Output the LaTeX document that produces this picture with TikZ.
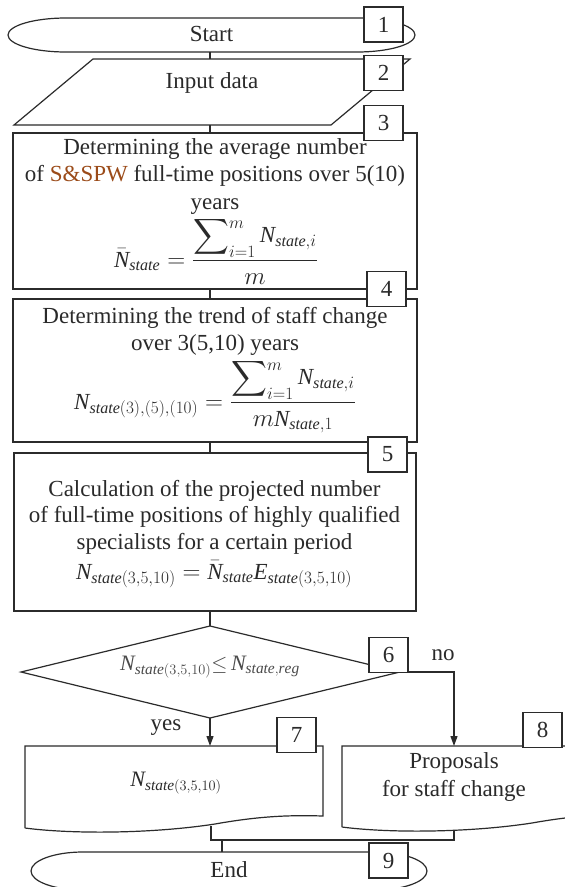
\documentclass[tikz,border=0pt]{standalone}
\usepackage{exscale}
\usepackage{fontspec}
\setmainfont{Liberation Serif}
\usetikzlibrary{arrows.meta,calc}
\definecolor{ink}{HTML}{2B2B2B}
\definecolor{txt}{HTML}{2A2A2A}
\definecolor{gtxt}{HTML}{4A4A4A}
\definecolor{brn}{RGB}{155,75,25}
\newcommand{\fnt}{\fontsize{23}{27.5}\selectfont}
\newcommand{\fntb}{\fontsize{23}{26.5}\selectfont}
\newcommand{\fntc}{\fontsize{22}{26}\selectfont}
\newcommand{\Ni}{\mathit{N}}
\newcommand{\st}{\mathit{state}}
\newcommand{\sumim}{\sum\nolimits_{i=1}^{\lower5pt\hbox{$\scriptstyle m$}}}
\begin{document}
\begin{tikzpicture}[x=1pt,y=-1pt,
  ln/.style={draw=ink,line width=1.2pt},
  arr/.style={ln,-{Triangle[length=10pt,width=7pt]}},
  lbl/.style={text=txt,font=\fnt,inner sep=0pt,align=center},
  procbox/.style={ln,rectangle,inner sep=0pt},
  numbox/.style={ln,fill=white,rectangle,minimum width=39pt,minimum height=35pt,inner sep=0pt,text=txt,font=\fnt}]
\clip (0,0) rectangle (565,887);
\fill[white] (0,0) rectangle (565,887);

% 1 Start terminator
\draw[ln] (66,18) -- (357,18) .. controls (389,18) and (415,25.6) .. (415,35)
  .. controls (415,44.4) and (389,52) .. (357,52) -- (66,52)
  .. controls (34,52) and (8,44.4) .. (8,35) .. controls (8,25.6) and (34,18) .. cycle;
\node[lbl] (start) at (211.5,34) {Start};
\coordinate (stb) at (210,52);

% 2 Input data
\draw[ln] (93,59) -- (410,59) -- (331,125) -- (14,125) -- cycle;
\node[lbl] (input) at (212,83) {Input data};
\coordinate (int) at (210,59);
\coordinate (inb) at (210,125);

% 3
\node[procbox,minimum width=404pt,minimum height=156pt] (p3) at (215,211) {};
\node[lbl] (t3) at (215,176) {Determining the average number\\
 of \textcolor{brn}{S\&SPW} full-time positions over 5(10)\\
 years};
\node[lbl,anchor=base] (f3) at (216,267)
 {$\displaystyle \bar{\Ni}_{\st}=\frac{\displaystyle\sumim\Ni_{\st,i}}{m}$};

% 4
\node[procbox,minimum width=404pt,minimum height=143pt] (p4) at (215,370.5) {};
\node[lbl] (t4) at (215,331.5) {Determining the trend of staff change\\
 over 3(5,10) years};
\node[lbl,anchor=base] (f4) at (215,409)
 {$\displaystyle \Ni_{\st(3),(5),(10)}=\frac{\displaystyle\sumim\Ni_{\st,i}}{m\Ni_{\st,1}}$};

% 5
\node[procbox,minimum width=402pt,minimum height=158pt] (p5) at (215,532) {};
\node[lbl,font=\fntb] (t5) at (214.5,517) {Calculation of the projected number\\
 of full-time positions of highly qualified\\
 specialists for a certain period};
\node[lbl,anchor=base] (f5) at (214,579)
 {$\Ni_{\st(3,5,10)}=\bar{\Ni}_{\st}\mathit{E}_{\st(3,5,10)}$};

% 6 decision
\coordinate (dt) at (210,626);
\coordinate (dr) at (400,672);
\coordinate (db) at (210,718);
\coordinate (dl) at (21,672);
\draw[ln] (dt) -- (dr) -- (db) -- (dl) -- cycle;
\node[lbl,text=gtxt,font=\fntc] (cond) at (210,667) {$\Ni_{\st(3,5,10)}{\leq}\,\Ni_{\st,\mathit{reg}}$};

% 7 document
\draw[ln] (25,828) -- (25,746) -- (323,746) -- (323,816)
  .. controls (290,815) and (260,816) .. (215,824)
  .. controls (150,834) and (70,834) .. (25,828);
\node[lbl,font=\fntc] (t7) at (176,783) {$\Ni_{\st(3,5,10)}$};
\coordinate (d7t) at (210,746);
\coordinate (d7b) at (211,826);

% 8 document
\draw[ln] (342,827) -- (342,746) -- (640,746) -- (640,815)
  .. controls (607,814) and (577,815) .. (532,823)
  .. controls (467,833) and (387,833) .. (342,827);
\node[lbl] (t8) at (454,777) {Proposals\\for staff change};
\coordinate (d8t) at (454,746);
\coordinate (d8b) at (454,830);

% 9 End terminator
\draw[ln] (83,852) -- (375,852) .. controls (403.7,852) and (427,860.5) .. (427,871)
  .. controls (427,881.5) and (403.7,890) .. (375,890) -- (83,890)
  .. controls (54.3,890) and (31,881.5) .. (31,871) .. controls (31,860.5) and (54.3,852) .. cycle;
\node[lbl] (end) at (229,870) {End};
\coordinate (ent) at (222,852);

% connectors
\draw[ln] (stb) -- (int);
\draw[ln] (inb) -- (inb |- p3.north);
\draw[ln] (p3.south -| inb) -- (p4.north -| inb);
\draw[ln] (p4.south -| inb) -- (p5.north -| inb);
\draw[ln] (p5.south -| dt) -- (dt);
\draw[arr] (db) -- (d7t);
\draw[arr] (dr) -- (dr -| d8t) -- (d8t);
\coordinate (mj) at (211,840);
\draw[ln] (d7b) -- (mj) -- (mj -| d8b) -- (d8b);
\draw[ln] (mj -| ent) -- (ent);

\node[lbl] (yes) at (166,728) {yes};
\node[lbl] (no) at (443,655) {no};

% number boxes
\node[numbox] (n1) at (383.5,24.5) {1};
\node[numbox] (n2) at (383.5,73) {2};
\node[numbox] (n3) at (383.5,123) {3};
\node[numbox] (n4) at (386.5,289) {4};
\node[numbox] (n5) at (387.5,454.5) {5};
\node[numbox] (n6) at (388.5,655) {6};
\node[numbox] (n7) at (296.5,735) {7};
\node[numbox] (n8) at (542.5,730) {8};
\node[numbox] (n9) at (388.5,860.5) {9};
\end{tikzpicture}
\end{document}
